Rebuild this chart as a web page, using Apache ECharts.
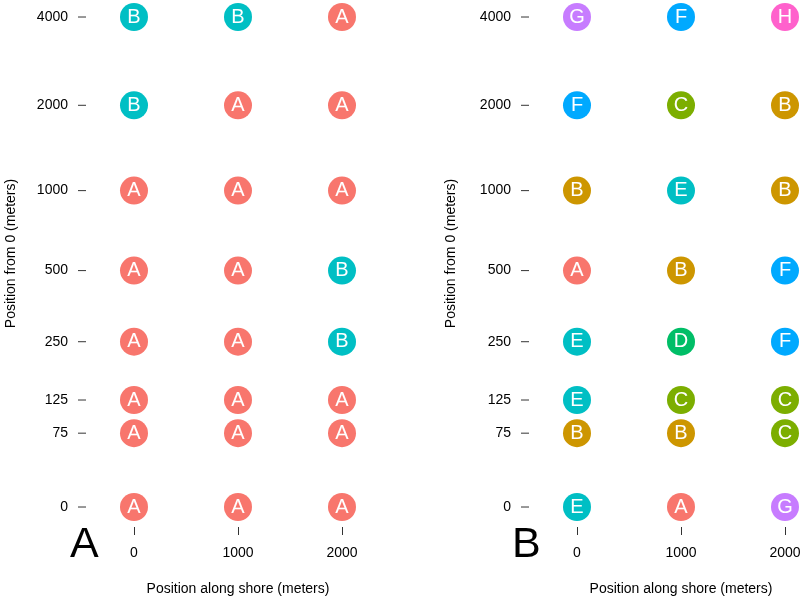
<!DOCTYPE html>
<html>
<head>
<meta charset="utf-8">
<script src="https://cdn.jsdelivr.net/npm/echarts@6/dist/echarts.min.js"></script>
<style>html,body{margin:0;padding:0;background:#fff;}#chart{width:800px;height:597px;}</style>
</head>
<body>
<div id="chart"></div>
<script>
// ---- data ----
var shoreValues = [0, 1000, 2000];
var depthValues = [0, 75, 125, 250, 500, 1000, 2000, 4000];
// rows follow depthValues (bottom to top), columns follow shoreValues
var panelAGroups = [
  ['A', 'A', 'A'],
  ['A', 'A', 'A'],
  ['A', 'A', 'A'],
  ['A', 'A', 'B'],
  ['A', 'A', 'B'],
  ['A', 'A', 'A'],
  ['B', 'A', 'A'],
  ['B', 'B', 'A']
];
var panelBGroups = [
  ['E', 'A', 'G'],
  ['B', 'B', 'C'],
  ['E', 'C', 'C'],
  ['E', 'D', 'F'],
  ['A', 'B', 'F'],
  ['B', 'E', 'B'],
  ['F', 'C', 'B'],
  ['G', 'F', 'H']
];
var panelLabels = ['A', 'B'];
var xTitle = 'Position along shore (meters)';
var yTitle = 'Position from 0 (meters)';

// ---- styles ----
var colorsA = { A: '#F8766D', B: '#00BFC4' };
var colorsB = { A: '#F8766D', B: '#CD9600', C: '#7CAE00', D: '#00BE67', E: '#00BFC4', F: '#00A9FF', G: '#C77CFF', H: '#FF61CC' };
var FONT = 'Liberation Sans, Arial, Helvetica, sans-serif';

function tf(v) { return Math.log10(v + 100); }
function inv(t) { return Math.round(Math.pow(10, t) - 100); }

function buildData(groups, colors) {
  var out = [];
  for (var r = 0; r < depthValues.length; r++) {
    for (var c = 0; c < shoreValues.length; c++) {
      var g = groups[r][c];
      out.push({ value: [shoreValues[c], tf(depthValues[r]), g], itemStyle: { color: colors[g], opacity: 1 } });
    }
  }
  return out;
}

var yCustom = depthValues.map(tf);
var grids = [
  { left: 86, top: -20, width: 304, height: 547, containLabel: false, outerBoundsMode: 'none' },
  { left: 529, top: -20, width: 304, height: 547, containLabel: false, outerBoundsMode: 'none' }
];

function xAxis(idx) {
  return {
    gridIndex: idx, type: 'value', min: -461.5, max: 2461.5,
    name: xTitle, nameLocation: 'middle', nameGap: 55,
    nameTextStyle: { fontFamily: FONT, fontSize: 14, color: '#000' },
    axisLine: { show: false }, splitLine: { show: false },
    axisTick: { show: true, length: 8, customValues: shoreValues, lineStyle: { color: '#333', width: 1 } },
    axisLabel: { show: true, customValues: shoreValues, margin: 19, fontFamily: FONT, fontSize: 14, color: '#000',
      formatter: function (v) { return String(Math.round(v)); } }
  };
}
function yAxis(idx, gap) {
  return {
    gridIndex: idx, type: 'value', min: 1.9342, max: 3.7346,
    name: yTitle, nameLocation: 'middle', nameGap: gap,
    nameTextStyle: { fontFamily: FONT, fontSize: 14, color: '#000' },
    axisLine: { show: false }, splitLine: { show: false },
    axisTick: { show: false },
    axisLabel: { show: true, customValues: yCustom, margin: 0, fontFamily: FONT, fontSize: 14, color: '#000',
      formatter: function (v) { return '{v|' + inv(v) + '}{g|}{t|}'; },
      rich: {
        v: { fontFamily: FONT, fontSize: 14, color: '#000', verticalAlign: 'middle' },
        g: { width: 10, height: 1, verticalAlign: 'middle' },
        t: { width: 8, height: 1, backgroundColor: '#333', verticalAlign: 'middle' }
      } }
  };
}
function series(idx, groups, colors) {
  return {
    type: 'scatter', xAxisIndex: idx, yAxisIndex: idx,
    symbol: 'circle', symbolSize: 28,
    itemStyle: { opacity: 1 },
    data: buildData(groups, colors),
    label: { show: true, position: 'inside', color: '#fff', fontFamily: FONT, fontSize: 20,
      formatter: function (p) { return p.value[2]; } },
    emphasis: { disabled: true }
  };
}

var chart = echarts.init(document.getElementById('chart'), null, { renderer: 'canvas' });
chart.setOption({
  animation: false,
  backgroundColor: '#fff',
  grid: grids,
  xAxis: [xAxis(0), xAxis(1)],
  yAxis: [yAxis(0, 68), yAxis(1, 71)],
  series: [series(0, panelAGroups, colorsA), series(1, panelBGroups, colorsB)],
  graphic: [
    { type: 'text', left: 70, top: 524, style: { text: panelLabels[0], font: '43px ' + FONT, fill: '#000' } },
    { type: 'text', left: 512, top: 524, style: { text: panelLabels[1], font: '43px ' + FONT, fill: '#000' } }
  ]
});
</script>
</body>
</html>
